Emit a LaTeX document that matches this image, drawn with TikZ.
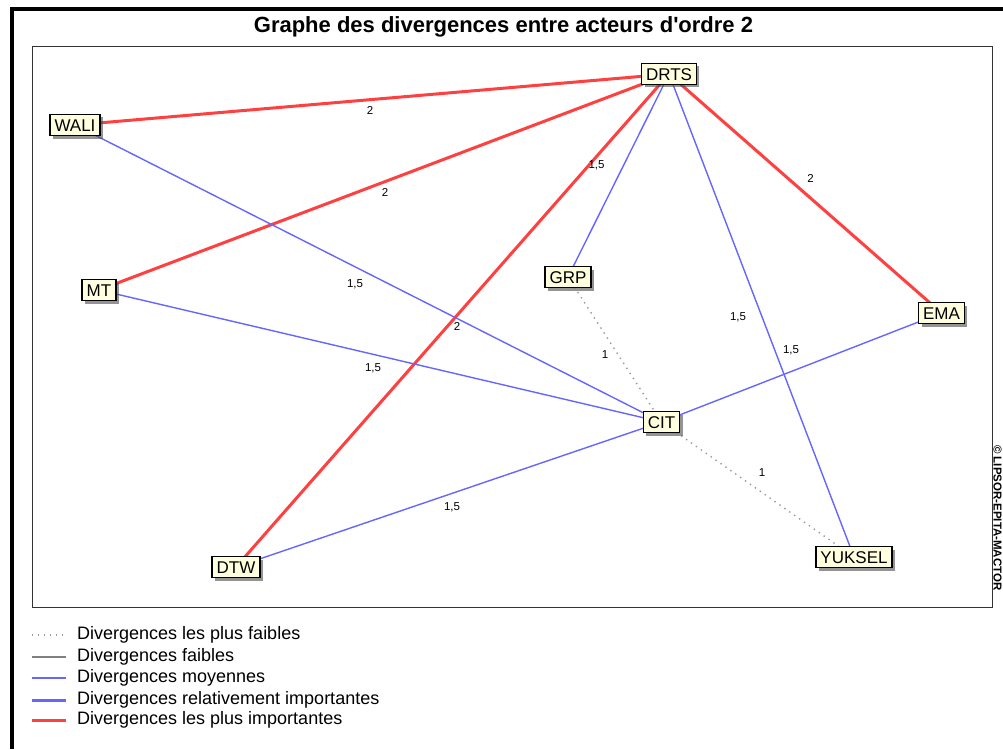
\documentclass[tikz,border=0pt]{standalone}
\usepackage{fontspec}
\setmainfont{Liberation Sans}
\usetikzlibrary{backgrounds,shadows}
\definecolor{redE}{HTML}{FF4040}
\definecolor{blueE}{HTML}{6666FF}
\definecolor{dotE}{HTML}{9A9A9A}
\definecolor{weakE}{HTML}{808080}
\definecolor{nodefill}{HTML}{FFFFE0}
\begin{document}
\begin{tikzpicture}[x=1pt,y=-1pt,
  actor/.style={draw=black, line width=1.5pt, fill=nodefill,
    font=\fontsize{17}{17}\selectfont, inner xsep=4.5pt, inner ysep=0pt,
    minimum height=21pt, text height=12.5pt, text depth=0pt,
    drop shadow={shadow xshift=3pt, shadow yshift=-3pt, opacity=0.6, fill=black!70}},
  strongest/.style={redE, line width=3pt},
  moyenne/.style={blueE, line width=1.4pt},
  relimp/.style={blueE, line width=3pt},
  faible/.style={weakE, line width=1.4pt},
  weakest/.style={dotE, line width=1.4pt, dash pattern=on 1.4pt off 4.6pt},
  lbl/.style={font=\fontsize{11.5}{12}\selectfont, inner sep=0pt},
  legtext/.style={font=\fontsize{18}{18}\selectfont, anchor=west, inner sep=0pt}]
\useasboundingbox (0,0) rectangle (1003,749);
% outer frame
\draw[line width=4pt] (11.5,749) -- (11.5,9) -- (1003,9);
% title
\node[font=\bfseries\fontsize{22}{22}\selectfont, inner sep=0pt] (title) at (503.5,27) {Graphe des divergences entre acteurs d\textquotesingle ordre 2};
% plot frame
\draw[line width=1.3pt, black!80] (32.5,46.5) rectangle (992.5,607.5);
% copyright
\node[font=\bfseries\fontsize{11.5}{12}\selectfont, rotate=-90, anchor=west, inner sep=0pt] (copy) at (997.5,445) {© LIPSOR-EPITA-MACTOR};
% actors
\node[actor] (DRTS) at (669,74) {DRTS};
\node[actor] (WALI) at (75,125) {WALI};
\node[actor] (MT) at (99,290) {MT};
\node[actor] (GRP) at (568,277) {GRP};
\node[actor] (CIT) at (661.5,422) {CIT};
\node[actor] (EMA) at (941.5,313) {EMA};
\node[actor] (DTW) at (236,567) {DTW};
\node[actor] (YUKSEL) at (854,557) {YUKSEL};
% edges
\begin{scope}[on background layer]
  \draw[strongest] (WALI.center) -- (DRTS.center);
  \draw[strongest] (MT.center) -- (DRTS.center);
  \draw[strongest] (DTW.center) -- (DRTS.center);
  \draw[strongest] (DRTS.center) -- (EMA.center);
  \draw[moyenne] (WALI.center) -- (CIT.center);
  \draw[moyenne] (MT.center) -- (CIT.center);
  \draw[moyenne] (DTW.center) -- (CIT.center);
  \draw[moyenne] (GRP.center) -- (DRTS.center);
  \draw[moyenne] (DRTS.center) -- (YUKSEL.center);
  \draw[moyenne] (CIT.center) -- (EMA.center);
  \draw[weakest] (GRP.center) -- (CIT.center);
  \draw[weakest] (CIT.center) -- (YUKSEL.center);
\end{scope}
% edge labels
\node[lbl] (l1) at (370,110) {2};
\node[lbl] (l2) at (385,192) {2};
\node[lbl] (l3) at (596.5,165.5) {1,5};
\node[lbl] (l4) at (810.5,178) {2};
\node[lbl] (l5) at (355,284) {1,5};
\node[lbl] (l6) at (457,326) {2};
\node[lbl] (l7) at (373,368) {1,5};
\node[lbl] (l8) at (605,355) {1};
\node[lbl] (l9) at (738,317) {1,5};
\node[lbl] (l10) at (791,350) {1,5};
\node[lbl] (l11) at (762,473) {1};
\node[lbl] (l12) at (452,507) {1,5};
% legend
\coordinate (a1) at (32,635); \coordinate (b1) at (66,635);
\coordinate (a2) at (32,657); \coordinate (b2) at (66,657);
\coordinate (a3) at (32,678); \coordinate (b3) at (66,678);
\coordinate (a4) at (32,700); \coordinate (b4) at (66,700);
\coordinate (a5) at (32,720); \coordinate (b5) at (66,720);
\draw[weakest] (a1) -- (b1);
\draw[faible] (a2) -- (b2);
\draw[moyenne] (a3) -- (b3);
\draw[relimp] (a4) -- (b4);
\draw[strongest] (a5) -- (b5);
\node[legtext] (t1) at (77,635) {Divergences les plus faibles};
\node[legtext] (t2) at (77,657) {Divergences faibles};
\node[legtext] (t3) at (77,678) {Divergences moyennes};
\node[legtext] (t4) at (77,700) {Divergences relativement importantes};
\node[legtext] (t5) at (77,720) {Divergences les plus importantes};
\end{tikzpicture}
\end{document}
